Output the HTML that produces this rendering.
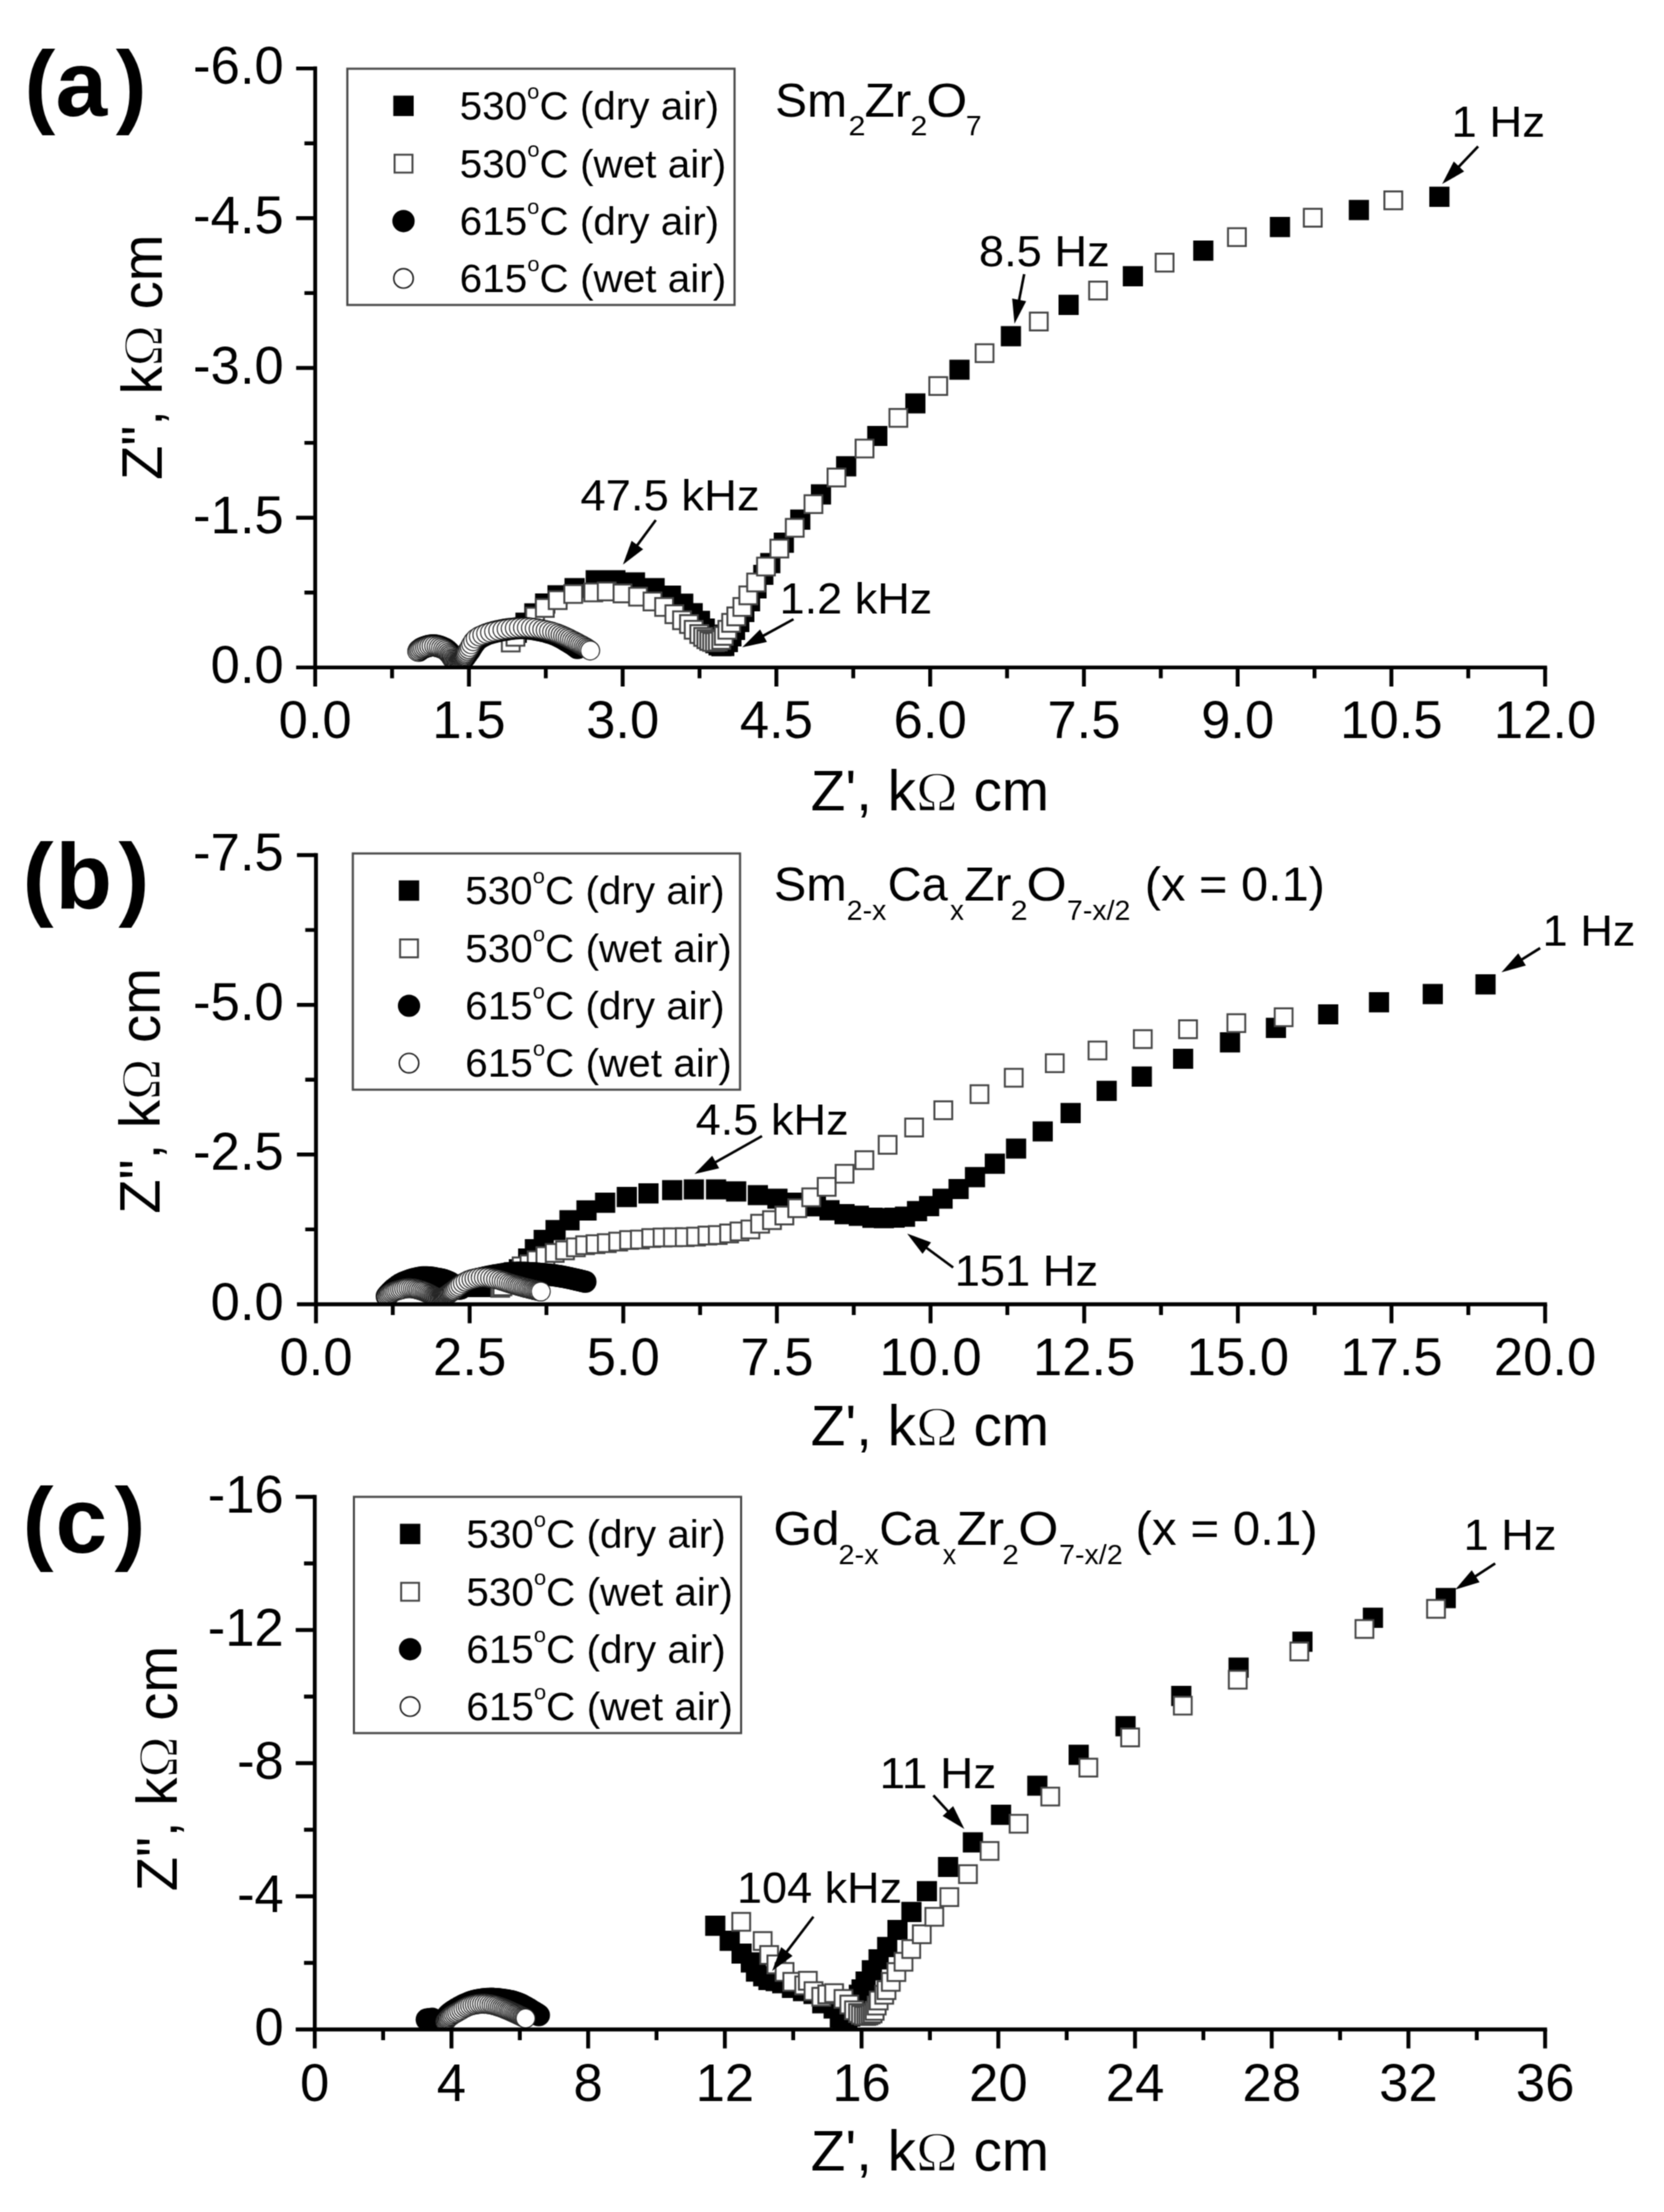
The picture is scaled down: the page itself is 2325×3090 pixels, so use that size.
<!DOCTYPE html>
<html lang="en"><head><meta charset="utf-8"><title>Impedance spectra</title>
<style>html,body{margin:0;padding:0;background:#fff}svg{display:block}text{fill:#000}</style></head><body>
<svg width="2325" height="3090" viewBox="0 0 2325 3090">
<defs><filter id="soft" color-interpolation-filters="sRGB" x="0" y="0" width="2325" height="3090" filterUnits="userSpaceOnUse"><feConvolveMatrix order="3" kernelMatrix="1 2 1 2 4 2 1 2 1" divisor="16" edgeMode="duplicate" preserveAlpha="true"/></filter></defs>
<g filter="url(#soft)">
<rect width="2325" height="3090" fill="#fff"/>
<rect x="485.3" y="96" width="541" height="330" fill="#fff" stroke="#4a4a4a" stroke-width="3"/>
<rect x="549.5" y="133.6" width="28.5" height="28.5" fill="#000"/>
<rect x="551.3" y="216.1" width="25" height="25" fill="#fff" stroke="#444" stroke-width="2.7"/>
<circle cx="563.8" cy="308.8" r="15.6" fill="#000"/>
<circle cx="563.8" cy="388.9" r="13.6" fill="#fff" stroke="#222" stroke-width="2.2"/>
<text x="642.3" y="166.8" font-size="55" font-family="'Liberation Sans', Arial, Helvetica, sans-serif" textLength="362.5" lengthAdjust="spacingAndGlyphs">530<tspan font-size="30" dy="-29">o</tspan><tspan dy="29">C (dry air)</tspan></text>
<text x="642.3" y="247.6" font-size="55" font-family="'Liberation Sans', Arial, Helvetica, sans-serif" textLength="372.5" lengthAdjust="spacingAndGlyphs">530<tspan font-size="30" dy="-29">o</tspan><tspan dy="29">C (wet air)</tspan></text>
<text x="642.3" y="327.8" font-size="55" font-family="'Liberation Sans', Arial, Helvetica, sans-serif" textLength="362.5" lengthAdjust="spacingAndGlyphs">615<tspan font-size="30" dy="-29">o</tspan><tspan dy="29">C (dry air)</tspan></text>
<text x="642.3" y="407.9" font-size="55" font-family="'Liberation Sans', Arial, Helvetica, sans-serif" textLength="372.5" lengthAdjust="spacingAndGlyphs">615<tspan font-size="30" dy="-29">o</tspan><tspan dy="29">C (wet air)</tspan></text>
<clipPath id="cp1"><rect x="440.5" y="0" width="1884.5" height="932.4"/></clipPath>
<g clip-path="url(#cp1)">
<path d="M707.9 869.9h28.2v28.2h-28.2zM720.2 855.8h28.2v28.2h-28.2zM732.5 842.8h28.2v28.2h-28.2zM747.6 829.1h28.2v28.2h-28.2zM764.9 817.5h28.2v28.2h-28.2zM788.7 807.4h28.2v28.2h-28.2zM818.3 796.6h28.2v28.2h-28.2zM845.7 796.6h28.2v28.2h-28.2zM873.1 799.5h28.2v28.2h-28.2zM900.5 807.4h28.2v28.2h-28.2zM923.4 817.9h28.2v28.2h-28.2zM940.5 829.2h28.2v28.2h-28.2zM953.7 842.5h28.2v28.2h-28.2zM963.9 853.3h28.2v28.2h-28.2zM970.6 864.1h28.2v28.2h-28.2zM976 872.5h28.2v28.2h-28.2zM980.9 879.4h28.2v28.2h-28.2zM985.4 884.4h28.2v28.2h-28.2zM989.9 887.4h28.2v28.2h-28.2zM993.9 888.5h28.2v28.2h-28.2zM997.9 888.3h28.2v28.2h-28.2zM1002.9 882.9h28.2v28.2h-28.2zM1007.9 874.9h28.2v28.2h-28.2zM1012.9 865.9h28.2v28.2h-28.2zM1018.9 854.9h28.2v28.2h-28.2zM1025.9 840.9h28.2v28.2h-28.2zM1033.9 825.9h28.2v28.2h-28.2zM1042.9 807.9h28.2v28.2h-28.2zM1052.4 788.9h28.2v28.2h-28.2zM1062.2 772.5h28.2v28.2h-28.2zM1081.1 744.1h28.2v28.2h-28.2zM1104.1 711.7h28.2v28.2h-28.2zM1133 676.5h28.2v28.2h-28.2zM1168.2 637.3h28.2v28.2h-28.2zM1211.7 594.9h28.2v28.2h-28.2zM1264.9 549.4h28.2v28.2h-28.2zM1326.5 502.4h28.2v28.2h-28.2zM1398.4 455.5h28.2v28.2h-28.2zM1479 411.7h28.2v28.2h-28.2zM1568.8 371.7h28.2v28.2h-28.2zM1667.2 336h28.2v28.2h-28.2zM1774.3 303h28.2v28.2h-28.2zM1884.6 279.2h28.2v28.2h-28.2zM1997.1 260.8h28.2v28.2h-28.2z" fill="#000"/>
<g fill="#fff" stroke="#444" stroke-width="2.7">
<rect x="701.2" y="885.1" width="24.9" height="24.9"/>
<rect x="707.8" y="877.1" width="24.9" height="24.9"/>
<rect x="721.5" y="863.5" width="24.9" height="24.9"/>
<rect x="735.1" y="849" width="24.9" height="24.9"/>
<rect x="748.8" y="836.8" width="24.9" height="24.9"/>
<rect x="766.8" y="825.9" width="24.9" height="24.9"/>
<rect x="788.5" y="817.3" width="24.9" height="24.9"/>
<rect x="816.5" y="815.1" width="24.9" height="24.9"/>
<rect x="835.3" y="813.8" width="24.9" height="24.9"/>
<rect x="857.3" y="816.5" width="24.9" height="24.9"/>
<rect x="879" y="821.1" width="24.9" height="24.9"/>
<rect x="899.2" y="827.8" width="24.9" height="24.9"/>
<rect x="915.5" y="835.4" width="24.9" height="24.9"/>
<rect x="929.8" y="845.6" width="24.9" height="24.9"/>
<rect x="940.5" y="854" width="24.9" height="24.9"/>
<rect x="950.2" y="859.3" width="24.9" height="24.9"/>
<rect x="956.8" y="867.3" width="24.9" height="24.9"/>
<rect x="964.6" y="873.3" width="24.9" height="24.9"/>
<rect x="970" y="877.3" width="24.9" height="24.9"/>
<rect x="974.5" y="880.5" width="24.9" height="24.9"/>
<rect x="978.5" y="882.9" width="24.9" height="24.9"/>
<rect x="982.5" y="884.3" width="24.9" height="24.9"/>
<rect x="986.5" y="884.5" width="24.9" height="24.9"/>
<rect x="990.5" y="883.8" width="24.9" height="24.9"/>
<rect x="995.2" y="881.5" width="24.9" height="24.9"/>
<rect x="998.8" y="875.8" width="24.9" height="24.9"/>
<rect x="1003.8" y="867.3" width="24.9" height="24.9"/>
<rect x="1009.1" y="857.6" width="24.9" height="24.9"/>
<rect x="1016.3" y="848.6" width="24.9" height="24.9"/>
<rect x="1024.8" y="835.4" width="24.9" height="24.9"/>
<rect x="1033.1" y="819.2" width="24.9" height="24.9"/>
<rect x="1044" y="801.2" width="24.9" height="24.9"/>
<rect x="1057.8" y="779" width="24.9" height="24.9"/>
<rect x="1076.5" y="753.9" width="24.9" height="24.9"/>
<rect x="1098" y="724.9" width="24.9" height="24.9"/>
<rect x="1124.1" y="691.8" width="24.9" height="24.9"/>
<rect x="1156.3" y="654.6" width="24.9" height="24.9"/>
<rect x="1195.5" y="614.1" width="24.9" height="24.9"/>
<rect x="1242.8" y="571.3" width="24.9" height="24.9"/>
<rect x="1298.5" y="526.8" width="24.9" height="24.9"/>
<rect x="1363.2" y="480.9" width="24.9" height="24.9"/>
<rect x="1439" y="436.7" width="24.9" height="24.9"/>
<rect x="1521.8" y="393.4" width="24.9" height="24.9"/>
<rect x="1614.8" y="354.4" width="24.9" height="24.9"/>
<rect x="1715.8" y="318.8" width="24.9" height="24.9"/>
<rect x="1821.8" y="291.7" width="24.9" height="24.9"/>
<rect x="1934.3" y="267.4" width="24.9" height="24.9"/>
</g>
<g fill="#000">
<circle cx="585" cy="909" r="15.6"/>
<circle cx="586.6" cy="907.8" r="15.6"/>
<circle cx="588.3" cy="906.5" r="15.6"/>
<circle cx="590.2" cy="905.3" r="15.6"/>
<circle cx="592.5" cy="904.3" r="15.6"/>
<circle cx="594.9" cy="903.5" r="15.6"/>
<circle cx="597.6" cy="902.7" r="15.6"/>
<circle cx="600.4" cy="902" r="15.6"/>
<circle cx="603.6" cy="901.5" r="15.6"/>
<circle cx="606.9" cy="901.6" r="15.6"/>
<circle cx="610.2" cy="902.1" r="15.6"/>
<circle cx="613.2" cy="902.9" r="15.6"/>
<circle cx="616.1" cy="903.9" r="15.6"/>
<circle cx="618.8" cy="905" r="15.6"/>
<circle cx="621.3" cy="906.2" r="15.6"/>
<circle cx="623.6" cy="907.7" r="15.6"/>
<circle cx="625.6" cy="909.3" r="15.6"/>
<circle cx="627.3" cy="911" r="15.6"/>
<circle cx="628.8" cy="912.7" r="15.6"/>
<circle cx="630.2" cy="914.3" r="15.6"/>
<circle cx="631.5" cy="915.8" r="15.6"/>
<circle cx="632.6" cy="917.3" r="15.6"/>
<circle cx="633.5" cy="918.7" r="15.6"/>
<circle cx="634.4" cy="920" r="15.6"/>
<circle cx="635.3" cy="921.2" r="15.6"/>
<circle cx="636.2" cy="922.2" r="15.6"/>
<circle cx="637.1" cy="923.2" r="15.6"/>
<circle cx="637.8" cy="924.1" r="15.6"/>
<circle cx="638.7" cy="925" r="15.6"/>
<circle cx="639.6" cy="925.7" r="15.6"/>
<circle cx="640.8" cy="926" r="15.6"/>
<circle cx="642" cy="925.7" r="15.6"/>
<circle cx="643" cy="925.1" r="15.6"/>
<circle cx="643.9" cy="924.4" r="15.6"/>
<circle cx="644.7" cy="923.5" r="15.6"/>
<circle cx="645.6" cy="922.6" r="15.6"/>
<circle cx="646.4" cy="921.7" r="15.6"/>
<circle cx="647.1" cy="920.8" r="15.6"/>
<circle cx="647.9" cy="919.9" r="15.6"/>
<circle cx="648.8" cy="918.8" r="15.6"/>
<circle cx="649.9" cy="917.4" r="15.6"/>
<circle cx="651.1" cy="915.8" r="15.6"/>
<circle cx="652.5" cy="913.8" r="15.6"/>
<circle cx="654.1" cy="911.6" r="15.6"/>
<circle cx="656.1" cy="908.9" r="15.6"/>
<circle cx="658.3" cy="905.6" r="15.6"/>
<circle cx="660.6" cy="901.7" r="15.6"/>
<circle cx="663.3" cy="897.9" r="15.6"/>
<circle cx="666.4" cy="894.3" r="15.6"/>
<circle cx="670.3" cy="891.3" r="15.6"/>
<circle cx="674.6" cy="888.7" r="15.6"/>
<circle cx="679.2" cy="886.4" r="15.6"/>
<circle cx="684.2" cy="884.6" r="15.6"/>
<circle cx="689.5" cy="883.1" r="15.6"/>
<circle cx="694.7" cy="881.9" r="15.6"/>
<circle cx="699.8" cy="880.8" r="15.6"/>
<circle cx="704.8" cy="879.9" r="15.6"/>
<circle cx="709.7" cy="879.2" r="15.6"/>
<circle cx="714.4" cy="878.5" r="15.6"/>
<circle cx="719" cy="878" r="15.6"/>
<circle cx="723.5" cy="877.7" r="15.6"/>
<circle cx="727.9" cy="877.5" r="15.6"/>
<circle cx="732.2" cy="877.5" r="15.6"/>
<circle cx="736.3" cy="877.8" r="15.6"/>
<circle cx="740.3" cy="878.1" r="15.6"/>
<circle cx="744.2" cy="878.6" r="15.6"/>
<circle cx="747.9" cy="879.2" r="15.6"/>
<circle cx="751.6" cy="879.9" r="15.6"/>
<circle cx="755.2" cy="880.6" r="15.6"/>
<circle cx="758.7" cy="881.4" r="15.6"/>
<circle cx="762.1" cy="882.3" r="15.6"/>
<circle cx="765.3" cy="883.2" r="15.6"/>
<circle cx="768.5" cy="884.1" r="15.6"/>
<circle cx="771.6" cy="885" r="15.6"/>
<circle cx="774.6" cy="886.1" r="15.6"/>
<circle cx="777.5" cy="887.3" r="15.6"/>
<circle cx="780.2" cy="888.6" r="15.6"/>
<circle cx="782.9" cy="889.9" r="15.6"/>
<circle cx="785.4" cy="891.3" r="15.6"/>
<circle cx="787.8" cy="892.7" r="15.6"/>
<circle cx="790.2" cy="894.2" r="15.6"/>
<circle cx="792.5" cy="895.5" r="15.6"/>
<circle cx="794.8" cy="896.9" r="15.6"/>
<circle cx="797" cy="898.2" r="15.6"/>
<circle cx="799.1" cy="899.5" r="15.6"/>
<circle cx="801.2" cy="900.9" r="15.6"/>
<circle cx="803.1" cy="902.3" r="15.6"/>
<circle cx="805" cy="903.7" r="15.6"/>
<circle cx="806.8" cy="905.1" r="15.6"/>
</g>
<g fill="#fff" stroke="#262626" stroke-width="1.45">
<circle cx="583" cy="910" r="13.2"/>
<circle cx="584.7" cy="908.6" r="13.2"/>
<circle cx="586.6" cy="907.2" r="13.2"/>
<circle cx="588.8" cy="906" r="13.2"/>
<circle cx="591.2" cy="905.1" r="13.2"/>
<circle cx="593.9" cy="904.2" r="13.2"/>
<circle cx="596.7" cy="903.4" r="13.2"/>
<circle cx="599.8" cy="902.7" r="13.2"/>
<circle cx="603.1" cy="902.2" r="13.2"/>
<circle cx="606.7" cy="902.3" r="13.2"/>
<circle cx="610.1" cy="903" r="13.2"/>
<circle cx="613.3" cy="904" r="13.2"/>
<circle cx="616.3" cy="905.2" r="13.2"/>
<circle cx="619.2" cy="906.6" r="13.2"/>
<circle cx="621.7" cy="908.2" r="13.2"/>
<circle cx="623.9" cy="910.1" r="13.2"/>
<circle cx="625.8" cy="912.2" r="13.2"/>
<circle cx="627.6" cy="914.2" r="13.2"/>
<circle cx="629" cy="916.2" r="13.2"/>
<circle cx="630.3" cy="918.1" r="13.2"/>
<circle cx="631.4" cy="919.9" r="13.2"/>
<circle cx="632.6" cy="921.5" r="13.2"/>
<circle cx="633.8" cy="922.9" r="13.2"/>
<circle cx="635" cy="924.2" r="13.2"/>
<circle cx="636.1" cy="925.4" r="13.2"/>
<circle cx="637.3" cy="926.4" r="13.2"/>
<circle cx="638.6" cy="926.9" r="13.2"/>
<circle cx="639.9" cy="926.9" r="13.2"/>
<circle cx="641.1" cy="926.4" r="13.2"/>
<circle cx="642.1" cy="925.6" r="13.2"/>
<circle cx="643" cy="924.7" r="13.2"/>
<circle cx="643.9" cy="923.8" r="13.2"/>
<circle cx="644.7" cy="922.7" r="13.2"/>
<circle cx="645.5" cy="921.7" r="13.2"/>
<circle cx="646.2" cy="920.6" r="13.2"/>
<circle cx="646.9" cy="919.5" r="13.2"/>
<circle cx="647.6" cy="918.4" r="13.2"/>
<circle cx="648.3" cy="917.3" r="13.2"/>
<circle cx="648.9" cy="916.2" r="13.2"/>
<circle cx="649.7" cy="914.9" r="13.2"/>
<circle cx="650.6" cy="913.3" r="13.2"/>
<circle cx="651.7" cy="911.5" r="13.2"/>
<circle cx="653.1" cy="909.3" r="13.2"/>
<circle cx="654.8" cy="906.8" r="13.2"/>
<circle cx="656.5" cy="903.7" r="13.2"/>
<circle cx="658.5" cy="899.9" r="13.2"/>
<circle cx="661.2" cy="895.7" r="13.2"/>
<circle cx="664.7" cy="891.9" r="13.2"/>
<circle cx="669.1" cy="889" r="13.2"/>
<circle cx="674" cy="886.9" r="13.2"/>
<circle cx="679.3" cy="885.1" r="13.2"/>
<circle cx="684.7" cy="883.5" r="13.2"/>
<circle cx="690.4" cy="882.1" r="13.2"/>
<circle cx="696.2" cy="880.9" r="13.2"/>
<circle cx="702.1" cy="879.8" r="13.2"/>
<circle cx="707.9" cy="878.8" r="13.2"/>
<circle cx="713.6" cy="878" r="13.2"/>
<circle cx="719.4" cy="877.4" r="13.2"/>
<circle cx="725" cy="877" r="13.2"/>
<circle cx="730.7" cy="876.8" r="13.2"/>
<circle cx="736.2" cy="876.8" r="13.2"/>
<circle cx="741.8" cy="877.1" r="13.2"/>
<circle cx="747.2" cy="877.6" r="13.2"/>
<circle cx="752.6" cy="878.3" r="13.2"/>
<circle cx="757.7" cy="879.2" r="13.2"/>
<circle cx="762.5" cy="880.2" r="13.2"/>
<circle cx="767.1" cy="881.3" r="13.2"/>
<circle cx="771.5" cy="882.5" r="13.2"/>
<circle cx="775.7" cy="883.8" r="13.2"/>
<circle cx="779.6" cy="885.2" r="13.2"/>
<circle cx="783.3" cy="886.7" r="13.2"/>
<circle cx="786.8" cy="888.2" r="13.2"/>
<circle cx="790.1" cy="889.7" r="13.2"/>
<circle cx="793.3" cy="891.2" r="13.2"/>
<circle cx="796.4" cy="892.7" r="13.2"/>
<circle cx="799.4" cy="894.3" r="13.2"/>
<circle cx="802.3" cy="895.7" r="13.2"/>
<circle cx="805.2" cy="897.2" r="13.2"/>
<circle cx="807.9" cy="898.7" r="13.2"/>
<circle cx="810.6" cy="900.1" r="13.2"/>
<circle cx="813.2" cy="901.4" r="13.2"/>
<circle cx="815.7" cy="902.8" r="13.2"/>
<circle cx="818.1" cy="904.2" r="13.2"/>
<circle cx="820.4" cy="905.7" r="13.2"/>
<circle cx="822.5" cy="907.2" r="13.2"/>
<circle cx="824.6" cy="908.7" r="13.2"/>
</g>
</g>
<g stroke="#000" stroke-width="5.4" fill="none">
<path d="M440.4 92.8V959"/>
<path d="M413.8 932.4H2161.6"/>
<path d="M425.4 827.8H440.4M413.8 723.2H440.4M425.4 618.6H440.4M413.8 514H440.4M425.4 409.4H440.4M413.8 304.8H440.4M425.4 200.2H440.4M413.8 95.6H440.4M547.8 932.4V947.4M655.2 932.4V959M762.6 932.4V947.4M870 932.4V959M977.4 932.4V947.4M1084.8 932.4V959M1192.2 932.4V947.4M1299.7 932.4V959M1407.1 932.4V947.4M1514.5 932.4V959M1621.9 932.4V947.4M1729.3 932.4V959M1836.7 932.4V947.4M1944.1 932.4V959M2051.5 932.4V947.4M2158.9 932.4V959"/>
</g>
<text x="396.5" y="953.9" font-size="73.5" text-anchor="end" font-weight="normal" font-family="'Liberation Sans', Arial, Helvetica, sans-serif">0.0</text>
<text x="396.5" y="744.7" font-size="73.5" text-anchor="end" font-weight="normal" font-family="'Liberation Sans', Arial, Helvetica, sans-serif">-1.5</text>
<text x="396.5" y="535.5" font-size="73.5" text-anchor="end" font-weight="normal" font-family="'Liberation Sans', Arial, Helvetica, sans-serif">-3.0</text>
<text x="396.5" y="326.3" font-size="73.5" text-anchor="end" font-weight="normal" font-family="'Liberation Sans', Arial, Helvetica, sans-serif">-4.5</text>
<text x="396.5" y="117.1" font-size="73.5" text-anchor="end" font-weight="normal" font-family="'Liberation Sans', Arial, Helvetica, sans-serif">-6.0</text>
<text x="440.4" y="1031.4" font-size="73.5" text-anchor="middle" font-weight="normal" font-family="'Liberation Sans', Arial, Helvetica, sans-serif">0.0</text>
<text x="655.2" y="1031.4" font-size="73.5" text-anchor="middle" font-weight="normal" font-family="'Liberation Sans', Arial, Helvetica, sans-serif">1.5</text>
<text x="870" y="1031.4" font-size="73.5" text-anchor="middle" font-weight="normal" font-family="'Liberation Sans', Arial, Helvetica, sans-serif">3.0</text>
<text x="1084.8" y="1031.4" font-size="73.5" text-anchor="middle" font-weight="normal" font-family="'Liberation Sans', Arial, Helvetica, sans-serif">4.5</text>
<text x="1299.7" y="1031.4" font-size="73.5" text-anchor="middle" font-weight="normal" font-family="'Liberation Sans', Arial, Helvetica, sans-serif">6.0</text>
<text x="1514.5" y="1031.4" font-size="73.5" text-anchor="middle" font-weight="normal" font-family="'Liberation Sans', Arial, Helvetica, sans-serif">7.5</text>
<text x="1729.3" y="1031.4" font-size="73.5" text-anchor="middle" font-weight="normal" font-family="'Liberation Sans', Arial, Helvetica, sans-serif">9.0</text>
<text x="1944.1" y="1031.4" font-size="73.5" text-anchor="middle" font-weight="normal" font-family="'Liberation Sans', Arial, Helvetica, sans-serif">10.5</text>
<text x="2158.9" y="1031.4" font-size="73.5" text-anchor="middle" font-weight="normal" font-family="'Liberation Sans', Arial, Helvetica, sans-serif">12.0</text>
<text x="1132.8" y="1132.3" font-size="80" font-family="'Liberation Sans', Arial, Helvetica, sans-serif" textLength="333" lengthAdjust="spacingAndGlyphs">Z', k<tspan font-family="'Liberation Serif', 'DejaVu Serif', serif" font-size="79" stroke="#fff" stroke-width="1.6">&#937;</tspan> cm</text>
<text transform="translate(225.9 670.5) rotate(-90)" x="0" y="0" font-size="80" font-family="'Liberation Sans', Arial, Helvetica, sans-serif" textLength="343" lengthAdjust="spacingAndGlyphs">Z&quot;, k<tspan font-family="'Liberation Serif', 'DejaVu Serif', serif" font-size="79" stroke="#fff" stroke-width="1.6">&#937;</tspan> cm</text>
<text x="33.9 77.5 161.8" y="161.5" font-size="130" font-weight="bold" font-family="'Liberation Sans', Arial, Helvetica, sans-serif">(a)</text>
<text x="1083" y="162.8" font-size="67" text-anchor="start" font-weight="normal" font-family="'Liberation Sans', Arial, Helvetica, sans-serif" textLength="100.4" lengthAdjust="spacingAndGlyphs">Sm</text>
<text x="1185.4" y="189.3" font-size="39" text-anchor="start" font-weight="normal" font-family="'Liberation Sans', Arial, Helvetica, sans-serif" textLength="23.8" lengthAdjust="spacingAndGlyphs">2</text>
<text x="1207.9" y="162.8" font-size="67" text-anchor="start" font-weight="normal" font-family="'Liberation Sans', Arial, Helvetica, sans-serif" textLength="65.4" lengthAdjust="spacingAndGlyphs">Zr</text>
<text x="1271.9" y="189.3" font-size="39" text-anchor="start" font-weight="normal" font-family="'Liberation Sans', Arial, Helvetica, sans-serif" textLength="23.8" lengthAdjust="spacingAndGlyphs">2</text>
<text x="1294.2" y="162.8" font-size="67" text-anchor="start" font-weight="normal" font-family="'Liberation Sans', Arial, Helvetica, sans-serif" textLength="57.3" lengthAdjust="spacingAndGlyphs">O</text>
<text x="1349.6" y="189.3" font-size="39" text-anchor="start" font-weight="normal" font-family="'Liberation Sans', Arial, Helvetica, sans-serif" textLength="22" lengthAdjust="spacingAndGlyphs">7</text>
<text x="1367.8" y="372" font-size="62" text-anchor="start" font-weight="normal" font-family="'Liberation Sans', Arial, Helvetica, sans-serif" textLength="182.7" lengthAdjust="spacingAndGlyphs">8.5 Hz</text>
<line x1="1431" y1="383" x2="1423.2" y2="422.9" stroke="#000" stroke-width="3.6"/>
<polygon points="1417.5,452.3 1414.2,417 1433.8,420.8" fill="#000"/>
<text x="810.9" y="713" font-size="62" text-anchor="start" font-weight="normal" font-family="'Liberation Sans', Arial, Helvetica, sans-serif" textLength="250.5" lengthAdjust="spacingAndGlyphs">47.5 kHz</text>
<line x1="916.3" y1="726.5" x2="888.2" y2="764.6" stroke="#000" stroke-width="3.6"/>
<polygon points="870.4,788.7 882.5,755.4 898.6,767.3" fill="#000"/>
<text x="1089.2" y="857" font-size="62" text-anchor="start" font-weight="normal" font-family="'Liberation Sans', Arial, Helvetica, sans-serif" textLength="213.4" lengthAdjust="spacingAndGlyphs">1.2 kHz</text>
<line x1="1108.7" y1="865" x2="1063.3" y2="889.9" stroke="#000" stroke-width="3.6"/>
<polygon points="1037,904.3 1062,879.2 1071.6,896.7" fill="#000"/>
<text x="2028" y="190.6" font-size="62" text-anchor="start" font-weight="normal" font-family="'Liberation Sans', Arial, Helvetica, sans-serif" textLength="130.8" lengthAdjust="spacingAndGlyphs">1 Hz</text>
<line x1="2065.3" y1="204.6" x2="2035.8" y2="235.4" stroke="#000" stroke-width="3.6"/>
<polygon points="2015,257.1 2031.3,225.6 2045.7,239.5" fill="#000"/>
<rect x="493" y="1192.2" width="541" height="330" fill="#fff" stroke="#4a4a4a" stroke-width="3"/>
<rect x="557.2" y="1229.8" width="28.5" height="28.5" fill="#000"/>
<rect x="559" y="1312.3" width="25" height="25" fill="#fff" stroke="#444" stroke-width="2.7"/>
<circle cx="571.5" cy="1405" r="15.6" fill="#000"/>
<circle cx="571.5" cy="1485.1" r="13.6" fill="#fff" stroke="#222" stroke-width="2.2"/>
<text x="650" y="1263" font-size="55" font-family="'Liberation Sans', Arial, Helvetica, sans-serif" textLength="362.5" lengthAdjust="spacingAndGlyphs">530<tspan font-size="30" dy="-29">o</tspan><tspan dy="29">C (dry air)</tspan></text>
<text x="650" y="1343.8" font-size="55" font-family="'Liberation Sans', Arial, Helvetica, sans-serif" textLength="372.5" lengthAdjust="spacingAndGlyphs">530<tspan font-size="30" dy="-29">o</tspan><tspan dy="29">C (wet air)</tspan></text>
<text x="650" y="1424" font-size="55" font-family="'Liberation Sans', Arial, Helvetica, sans-serif" textLength="362.5" lengthAdjust="spacingAndGlyphs">615<tspan font-size="30" dy="-29">o</tspan><tspan dy="29">C (dry air)</tspan></text>
<text x="650" y="1504.1" font-size="55" font-family="'Liberation Sans', Arial, Helvetica, sans-serif" textLength="372.5" lengthAdjust="spacingAndGlyphs">615<tspan font-size="30" dy="-29">o</tspan><tspan dy="29">C (wet air)</tspan></text>
<clipPath id="cp2"><rect x="440.5" y="0" width="1884.5" height="1822"/></clipPath>
<g clip-path="url(#cp2)">
<path d="M642.9 1783.9h28.2v28.2h-28.2zM664.9 1783.9h28.2v28.2h-28.2zM688.9 1775.9h28.2v28.2h-28.2zM710.9 1758.9h28.2v28.2h-28.2zM723.9 1743.9h28.2v28.2h-28.2zM733.3 1730.9h28.2v28.2h-28.2zM745.6 1717.9h28.2v28.2h-28.2zM762.2 1704.2h28.2v28.2h-28.2zM781.6 1690.5h28.2v28.2h-28.2zM805.4 1676.8h28.2v28.2h-28.2zM831.4 1666h28.2v28.2h-28.2zM861.7 1658.1h28.2v28.2h-28.2zM892 1653h28.2v28.2h-28.2zM925.1 1648.4h28.2v28.2h-28.2zM955.4 1647.4h28.2v28.2h-28.2zM986.4 1647.4h28.2v28.2h-28.2zM1014.5 1650.3h28.2v28.2h-28.2zM1044.8 1655.4h28.2v28.2h-28.2zM1072.2 1660.4h28.2v28.2h-28.2zM1098.9 1665.9h28.2v28.2h-28.2zM1125.9 1671.1h28.2v28.2h-28.2zM1144.9 1676.5h28.2v28.2h-28.2zM1165.9 1682h28.2v28.2h-28.2zM1185.9 1684.2h28.2v28.2h-28.2zM1204.9 1687h28.2v28.2h-28.2zM1220.9 1687.5h28.2v28.2h-28.2zM1235.9 1686.9h28.2v28.2h-28.2zM1250.4 1685.5h28.2v28.2h-28.2zM1267.2 1677.7h28.2v28.2h-28.2zM1284.1 1670.8h28.2v28.2h-28.2zM1302.9 1660.4h28.2v28.2h-28.2zM1325.3 1646.9h28.2v28.2h-28.2zM1348.2 1630.3h28.2v28.2h-28.2zM1375.9 1611.6h28.2v28.2h-28.2zM1405.6 1590.4h28.2v28.2h-28.2zM1442.8 1566.4h28.2v28.2h-28.2zM1481.8 1540.7h28.2v28.2h-28.2zM1532.2 1509.7h28.2v28.2h-28.2zM1581.3 1489.8h28.2v28.2h-28.2zM1639 1464.9h28.2v28.2h-28.2zM1704.5 1442.1h28.2v28.2h-28.2zM1768.7 1421.8h28.2v28.2h-28.2zM1841.7 1402.9h28.2v28.2h-28.2zM1912.7 1386h28.2v28.2h-28.2zM1987.8 1374.5h28.2v28.2h-28.2zM2061.5 1361h28.2v28.2h-28.2z" fill="#000"/>
<g fill="#fff" stroke="#444" stroke-width="2.7">
<rect x="686.5" y="1786.5" width="24.9" height="24.9"/>
<rect x="689.5" y="1784.5" width="24.9" height="24.9"/>
<rect x="705.5" y="1764.5" width="24.9" height="24.9"/>
<rect x="716.4" y="1756.6" width="24.9" height="24.9"/>
<rect x="727.3" y="1753.8" width="24.9" height="24.9"/>
<rect x="737.4" y="1748" width="24.9" height="24.9"/>
<rect x="749.6" y="1742.2" width="24.9" height="24.9"/>
<rect x="762.6" y="1737.8" width="24.9" height="24.9"/>
<rect x="777" y="1734.2" width="24.9" height="24.9"/>
<rect x="792.2" y="1730" width="24.9" height="24.9"/>
<rect x="805.1" y="1727" width="24.9" height="24.9"/>
<rect x="819.6" y="1725.6" width="24.9" height="24.9"/>
<rect x="835.4" y="1724.1" width="24.9" height="24.9"/>
<rect x="851.3" y="1722" width="24.9" height="24.9"/>
<rect x="866.5" y="1719.8" width="24.9" height="24.9"/>
<rect x="881.6" y="1719.1" width="24.9" height="24.9"/>
<rect x="897.5" y="1717" width="24.9" height="24.9"/>
<rect x="913.3" y="1716.2" width="24.9" height="24.9"/>
<rect x="927.8" y="1716" width="24.9" height="24.9"/>
<rect x="944.3" y="1715.8" width="24.9" height="24.9"/>
<rect x="960.1" y="1715" width="24.9" height="24.9"/>
<rect x="976" y="1713.5" width="24.9" height="24.9"/>
<rect x="990.4" y="1712.8" width="24.9" height="24.9"/>
<rect x="1006.3" y="1710.6" width="24.9" height="24.9"/>
<rect x="1020.8" y="1707.8" width="24.9" height="24.9"/>
<rect x="1036" y="1705" width="24.9" height="24.9"/>
<rect x="1049.6" y="1697" width="24.9" height="24.9"/>
<rect x="1066.2" y="1692" width="24.9" height="24.9"/>
<rect x="1083.5" y="1685.5" width="24.9" height="24.9"/>
<rect x="1101.5" y="1675.3" width="24.9" height="24.9"/>
<rect x="1121" y="1660.1" width="24.9" height="24.9"/>
<rect x="1142.6" y="1645.5" width="24.9" height="24.9"/>
<rect x="1167.6" y="1627.2" width="24.9" height="24.9"/>
<rect x="1195.3" y="1608.2" width="24.9" height="24.9"/>
<rect x="1227.8" y="1586.8" width="24.9" height="24.9"/>
<rect x="1264.8" y="1562.6" width="24.9" height="24.9"/>
<rect x="1305.6" y="1538.5" width="24.9" height="24.9"/>
<rect x="1356.1" y="1516" width="24.9" height="24.9"/>
<rect x="1404" y="1493.1" width="24.9" height="24.9"/>
<rect x="1461.3" y="1472.8" width="24.9" height="24.9"/>
<rect x="1521" y="1455" width="24.9" height="24.9"/>
<rect x="1584.3" y="1439.1" width="24.9" height="24.9"/>
<rect x="1647.5" y="1425.3" width="24.9" height="24.9"/>
<rect x="1715" y="1416.8" width="24.9" height="24.9"/>
<rect x="1781.1" y="1408.6" width="24.9" height="24.9"/>
</g>
<g fill="#000">
<circle cx="540.5" cy="1810.8" r="15.6"/>
<circle cx="541.8" cy="1809.3" r="15.6"/>
<circle cx="543.2" cy="1807.8" r="15.6"/>
<circle cx="544.6" cy="1806.2" r="15.6"/>
<circle cx="546.1" cy="1804.6" r="15.6"/>
<circle cx="547.8" cy="1803" r="15.6"/>
<circle cx="549.5" cy="1801.4" r="15.6"/>
<circle cx="551.4" cy="1799.8" r="15.6"/>
<circle cx="553.4" cy="1798.3" r="15.6"/>
<circle cx="555.5" cy="1796.7" r="15.6"/>
<circle cx="557.7" cy="1795.1" r="15.6"/>
<circle cx="560" cy="1793.7" r="15.6"/>
<circle cx="562.6" cy="1792.3" r="15.6"/>
<circle cx="565.3" cy="1791.1" r="15.6"/>
<circle cx="568.2" cy="1790" r="15.6"/>
<circle cx="571.2" cy="1788.9" r="15.6"/>
<circle cx="574.3" cy="1787.9" r="15.6"/>
<circle cx="577.5" cy="1786.9" r="15.6"/>
<circle cx="580.9" cy="1786" r="15.6"/>
<circle cx="584.2" cy="1785.3" r="15.6"/>
<circle cx="587.4" cy="1784.8" r="15.6"/>
<circle cx="590.5" cy="1784.4" r="15.6"/>
<circle cx="593.6" cy="1784.3" r="15.6"/>
<circle cx="596.5" cy="1784.4" r="15.6"/>
<circle cx="599.3" cy="1784.6" r="15.6"/>
<circle cx="602.1" cy="1784.9" r="15.6"/>
<circle cx="604.7" cy="1785.2" r="15.6"/>
<circle cx="607.2" cy="1785.6" r="15.6"/>
<circle cx="609.7" cy="1786" r="15.6"/>
<circle cx="612" cy="1786.5" r="15.6"/>
<circle cx="614.3" cy="1786.9" r="15.6"/>
<circle cx="616.5" cy="1787.4" r="15.6"/>
<circle cx="618.6" cy="1787.9" r="15.6"/>
<circle cx="620.6" cy="1788.4" r="15.6"/>
<circle cx="622.5" cy="1789.1" r="15.6"/>
<circle cx="624.3" cy="1789.8" r="15.6"/>
<circle cx="626.1" cy="1790.6" r="15.6"/>
<circle cx="627.8" cy="1791.4" r="15.6"/>
<circle cx="629.4" cy="1792.4" r="15.6"/>
<circle cx="630.9" cy="1793.3" r="15.6"/>
<circle cx="632.4" cy="1794.2" r="15.6"/>
<circle cx="634" cy="1795" r="15.6"/>
<circle cx="635.4" cy="1795.9" r="15.6"/>
<circle cx="636.7" cy="1796.9" r="15.6"/>
<circle cx="637.8" cy="1798.1" r="15.6"/>
<circle cx="639" cy="1799.2" r="15.6"/>
<circle cx="640.3" cy="1799.9" r="15.6"/>
<circle cx="641.8" cy="1800.1" r="15.6"/>
<circle cx="643.3" cy="1799.9" r="15.6"/>
<circle cx="644.8" cy="1799.2" r="15.6"/>
<circle cx="646.1" cy="1798.2" r="15.6"/>
<circle cx="647.4" cy="1797.1" r="15.6"/>
<circle cx="648.8" cy="1795.8" r="15.6"/>
<circle cx="650.2" cy="1794.5" r="15.6"/>
<circle cx="651.8" cy="1793.2" r="15.6"/>
<circle cx="653.6" cy="1792" r="15.6"/>
<circle cx="655.5" cy="1790.9" r="15.6"/>
<circle cx="657.6" cy="1789.9" r="15.6"/>
<circle cx="659.9" cy="1789" r="15.6"/>
<circle cx="662.4" cy="1788.3" r="15.6"/>
<circle cx="665" cy="1787.5" r="15.6"/>
<circle cx="667.8" cy="1786.8" r="15.6"/>
<circle cx="670.7" cy="1786.1" r="15.6"/>
<circle cx="673.7" cy="1785.3" r="15.6"/>
<circle cx="676.9" cy="1784.6" r="15.6"/>
<circle cx="680.3" cy="1783.9" r="15.6"/>
<circle cx="683.8" cy="1783.2" r="15.6"/>
<circle cx="687.6" cy="1782.4" r="15.6"/>
<circle cx="691.5" cy="1781.7" r="15.6"/>
<circle cx="695.4" cy="1781" r="15.6"/>
<circle cx="699.2" cy="1780.4" r="15.6"/>
<circle cx="703" cy="1779.8" r="15.6"/>
<circle cx="706.7" cy="1779.2" r="15.6"/>
<circle cx="710.4" cy="1778.8" r="15.6"/>
<circle cx="714" cy="1778.4" r="15.6"/>
<circle cx="717.6" cy="1778.2" r="15.6"/>
<circle cx="721.2" cy="1778" r="15.6"/>
<circle cx="724.7" cy="1777.9" r="15.6"/>
<circle cx="728.1" cy="1778" r="15.6"/>
<circle cx="731.5" cy="1778.1" r="15.6"/>
<circle cx="734.8" cy="1778.2" r="15.6"/>
<circle cx="738.1" cy="1778.3" r="15.6"/>
<circle cx="741.4" cy="1778.5" r="15.6"/>
<circle cx="744.5" cy="1778.7" r="15.6"/>
<circle cx="747.7" cy="1778.9" r="15.6"/>
<circle cx="750.8" cy="1779.1" r="15.6"/>
<circle cx="753.8" cy="1779.4" r="15.6"/>
<circle cx="756.8" cy="1779.6" r="15.6"/>
<circle cx="759.7" cy="1779.9" r="15.6"/>
<circle cx="762.6" cy="1780.2" r="15.6"/>
<circle cx="765.5" cy="1780.5" r="15.6"/>
<circle cx="768.3" cy="1780.8" r="15.6"/>
<circle cx="771.1" cy="1781.2" r="15.6"/>
<circle cx="773.8" cy="1781.5" r="15.6"/>
<circle cx="776.5" cy="1781.9" r="15.6"/>
<circle cx="779.1" cy="1782.3" r="15.6"/>
<circle cx="781.7" cy="1782.7" r="15.6"/>
<circle cx="784.3" cy="1783.1" r="15.6"/>
<circle cx="786.8" cy="1783.5" r="15.6"/>
<circle cx="789.2" cy="1784" r="15.6"/>
<circle cx="791.6" cy="1784.5" r="15.6"/>
<circle cx="794" cy="1785" r="15.6"/>
<circle cx="796.4" cy="1785.5" r="15.6"/>
<circle cx="798.7" cy="1786" r="15.6"/>
<circle cx="800.9" cy="1786.5" r="15.6"/>
<circle cx="803.2" cy="1787" r="15.6"/>
<circle cx="805.4" cy="1787.5" r="15.6"/>
<circle cx="807.5" cy="1788" r="15.6"/>
<circle cx="809.7" cy="1788.5" r="15.6"/>
<circle cx="811.8" cy="1789" r="15.6"/>
<circle cx="813.8" cy="1789.5" r="15.6"/>
<circle cx="815.9" cy="1790" r="15.6"/>
<circle cx="817.9" cy="1790.5" r="15.6"/>
</g>
<g fill="#fff" stroke="#262626" stroke-width="1.45">
<circle cx="540" cy="1811" r="13.2"/>
<circle cx="541.6" cy="1809.8" r="13.2"/>
<circle cx="543.2" cy="1808.4" r="13.2"/>
<circle cx="544.9" cy="1807.1" r="13.2"/>
<circle cx="546.9" cy="1806" r="13.2"/>
<circle cx="549" cy="1804.9" r="13.2"/>
<circle cx="551.3" cy="1804" r="13.2"/>
<circle cx="553.7" cy="1803.2" r="13.2"/>
<circle cx="556.3" cy="1802.4" r="13.2"/>
<circle cx="559" cy="1801.6" r="13.2"/>
<circle cx="561.8" cy="1800.9" r="13.2"/>
<circle cx="564.8" cy="1800.2" r="13.2"/>
<circle cx="567.9" cy="1799.7" r="13.2"/>
<circle cx="571" cy="1799.5" r="13.2"/>
<circle cx="574.1" cy="1799.6" r="13.2"/>
<circle cx="577.1" cy="1799.9" r="13.2"/>
<circle cx="579.9" cy="1800.5" r="13.2"/>
<circle cx="582.7" cy="1801.1" r="13.2"/>
<circle cx="585.3" cy="1801.9" r="13.2"/>
<circle cx="587.9" cy="1802.7" r="13.2"/>
<circle cx="590.4" cy="1803.5" r="13.2"/>
<circle cx="592.9" cy="1804.3" r="13.2"/>
<circle cx="595.2" cy="1805.3" r="13.2"/>
<circle cx="597.4" cy="1806.3" r="13.2"/>
<circle cx="599.5" cy="1807.4" r="13.2"/>
<circle cx="601.4" cy="1808.5" r="13.2"/>
<circle cx="603.3" cy="1809.6" r="13.2"/>
<circle cx="605.1" cy="1810.6" r="13.2"/>
<circle cx="606.8" cy="1811.4" r="13.2"/>
<circle cx="608.4" cy="1812.2" r="13.2"/>
<circle cx="610" cy="1812.9" r="13.2"/>
<circle cx="611.5" cy="1813.6" r="13.2"/>
<circle cx="613" cy="1813.9" r="13.2"/>
<circle cx="614.5" cy="1814" r="13.2"/>
<circle cx="615.9" cy="1813.8" r="13.2"/>
<circle cx="617.1" cy="1813.4" r="13.2"/>
<circle cx="618.3" cy="1813" r="13.2"/>
<circle cx="619.4" cy="1812.5" r="13.2"/>
<circle cx="620.5" cy="1811.9" r="13.2"/>
<circle cx="621.5" cy="1811.3" r="13.2"/>
<circle cx="622.6" cy="1810.6" r="13.2"/>
<circle cx="623.7" cy="1809.9" r="13.2"/>
<circle cx="624.7" cy="1809.2" r="13.2"/>
<circle cx="625.8" cy="1808.4" r="13.2"/>
<circle cx="626.9" cy="1807.6" r="13.2"/>
<circle cx="627.9" cy="1806.8" r="13.2"/>
<circle cx="629" cy="1806" r="13.2"/>
<circle cx="630.1" cy="1805.1" r="13.2"/>
<circle cx="631.3" cy="1804.3" r="13.2"/>
<circle cx="632.7" cy="1803.3" r="13.2"/>
<circle cx="634.2" cy="1802.1" r="13.2"/>
<circle cx="636.1" cy="1800.7" r="13.2"/>
<circle cx="638.1" cy="1799" r="13.2"/>
<circle cx="640.5" cy="1797.1" r="13.2"/>
<circle cx="643.4" cy="1794.9" r="13.2"/>
<circle cx="646.8" cy="1792.5" r="13.2"/>
<circle cx="650.6" cy="1790.3" r="13.2"/>
<circle cx="654.6" cy="1788.5" r="13.2"/>
<circle cx="658.8" cy="1787" r="13.2"/>
<circle cx="663" cy="1785.9" r="13.2"/>
<circle cx="667.3" cy="1785" r="13.2"/>
<circle cx="671.7" cy="1784.5" r="13.2"/>
<circle cx="676.1" cy="1784.4" r="13.2"/>
<circle cx="680.5" cy="1784.7" r="13.2"/>
<circle cx="684.8" cy="1785.3" r="13.2"/>
<circle cx="689.1" cy="1786.2" r="13.2"/>
<circle cx="693.2" cy="1787.1" r="13.2"/>
<circle cx="697.2" cy="1788" r="13.2"/>
<circle cx="700.9" cy="1789.1" r="13.2"/>
<circle cx="704.4" cy="1790.2" r="13.2"/>
<circle cx="707.8" cy="1791.3" r="13.2"/>
<circle cx="711.1" cy="1792.4" r="13.2"/>
<circle cx="714.2" cy="1793.4" r="13.2"/>
<circle cx="717.2" cy="1794.3" r="13.2"/>
<circle cx="720.1" cy="1795.2" r="13.2"/>
<circle cx="722.9" cy="1795.9" r="13.2"/>
<circle cx="725.6" cy="1796.7" r="13.2"/>
<circle cx="728.2" cy="1797.4" r="13.2"/>
<circle cx="730.8" cy="1798.1" r="13.2"/>
<circle cx="733.3" cy="1798.8" r="13.2"/>
<circle cx="735.8" cy="1799.4" r="13.2"/>
<circle cx="738.2" cy="1800" r="13.2"/>
<circle cx="740.5" cy="1800.6" r="13.2"/>
<circle cx="742.8" cy="1801.2" r="13.2"/>
<circle cx="745.1" cy="1801.7" r="13.2"/>
<circle cx="747.3" cy="1802.3" r="13.2"/>
<circle cx="749.5" cy="1802.7" r="13.2"/>
<circle cx="751.6" cy="1803.2" r="13.2"/>
<circle cx="753.6" cy="1803.7" r="13.2"/>
<circle cx="755.6" cy="1804.1" r="13.2"/>
</g>
</g>
<g stroke="#000" stroke-width="5.4" fill="none">
<path d="M441.5 1191.8V1848.6"/>
<path d="M414.9 1822H2161.6"/>
<path d="M426.5 1717.4H441.5M414.9 1612.8H441.5M426.5 1508.2H441.5M414.9 1403.7H441.5M426.5 1299.1H441.5M414.9 1194.5H441.5M548.8 1822V1837M656.2 1822V1848.6M763.5 1822V1837M870.9 1822V1848.6M978.2 1822V1837M1085.5 1822V1848.6M1192.9 1822V1837M1300.2 1822V1848.6M1407.5 1822V1837M1514.9 1822V1848.6M1622.2 1822V1837M1729.6 1822V1848.6M1836.9 1822V1837M1944.2 1822V1848.6M2051.6 1822V1837M2158.9 1822V1848.6"/>
</g>
<text x="396.5" y="1843.5" font-size="73.5" text-anchor="end" font-weight="normal" font-family="'Liberation Sans', Arial, Helvetica, sans-serif">0.0</text>
<text x="396.5" y="1634.3" font-size="73.5" text-anchor="end" font-weight="normal" font-family="'Liberation Sans', Arial, Helvetica, sans-serif">-2.5</text>
<text x="396.5" y="1425.2" font-size="73.5" text-anchor="end" font-weight="normal" font-family="'Liberation Sans', Arial, Helvetica, sans-serif">-5.0</text>
<text x="396.5" y="1216" font-size="73.5" text-anchor="end" font-weight="normal" font-family="'Liberation Sans', Arial, Helvetica, sans-serif">-7.5</text>
<text x="441.5" y="1921.3" font-size="73.5" text-anchor="middle" font-weight="normal" font-family="'Liberation Sans', Arial, Helvetica, sans-serif">0.0</text>
<text x="656.2" y="1921.3" font-size="73.5" text-anchor="middle" font-weight="normal" font-family="'Liberation Sans', Arial, Helvetica, sans-serif">2.5</text>
<text x="870.9" y="1921.3" font-size="73.5" text-anchor="middle" font-weight="normal" font-family="'Liberation Sans', Arial, Helvetica, sans-serif">5.0</text>
<text x="1085.5" y="1921.3" font-size="73.5" text-anchor="middle" font-weight="normal" font-family="'Liberation Sans', Arial, Helvetica, sans-serif">7.5</text>
<text x="1300.2" y="1921.3" font-size="73.5" text-anchor="middle" font-weight="normal" font-family="'Liberation Sans', Arial, Helvetica, sans-serif">10.0</text>
<text x="1514.9" y="1921.3" font-size="73.5" text-anchor="middle" font-weight="normal" font-family="'Liberation Sans', Arial, Helvetica, sans-serif">12.5</text>
<text x="1729.6" y="1921.3" font-size="73.5" text-anchor="middle" font-weight="normal" font-family="'Liberation Sans', Arial, Helvetica, sans-serif">15.0</text>
<text x="1944.2" y="1921.3" font-size="73.5" text-anchor="middle" font-weight="normal" font-family="'Liberation Sans', Arial, Helvetica, sans-serif">17.5</text>
<text x="2158.9" y="1921.3" font-size="73.5" text-anchor="middle" font-weight="normal" font-family="'Liberation Sans', Arial, Helvetica, sans-serif">20.0</text>
<text x="1132.8" y="2018.7" font-size="80" font-family="'Liberation Sans', Arial, Helvetica, sans-serif" textLength="333" lengthAdjust="spacingAndGlyphs">Z', k<tspan font-family="'Liberation Serif', 'DejaVu Serif', serif" font-size="79" stroke="#fff" stroke-width="1.6">&#937;</tspan> cm</text>
<text transform="translate(222.8 1695.4) rotate(-90)" x="0" y="0" font-size="80" font-family="'Liberation Sans', Arial, Helvetica, sans-serif" textLength="343" lengthAdjust="spacingAndGlyphs">Z&quot;, k<tspan font-family="'Liberation Serif', 'DejaVu Serif', serif" font-size="79" stroke="#fff" stroke-width="1.6">&#937;</tspan> cm</text>
<text x="31.5 77.3 165.4" y="1269.3" font-size="130" font-weight="bold" font-family="'Liberation Sans', Arial, Helvetica, sans-serif">(b)</text>
<text x="1081.2" y="1258.3" font-size="67" text-anchor="start" font-weight="normal" font-family="'Liberation Sans', Arial, Helvetica, sans-serif" textLength="102" lengthAdjust="spacingAndGlyphs">Sm</text>
<text x="1183" y="1284.8" font-size="39" text-anchor="start" font-weight="normal" font-family="'Liberation Sans', Arial, Helvetica, sans-serif" textLength="55.4" lengthAdjust="spacingAndGlyphs">2-x</text>
<text x="1240.3" y="1258.3" font-size="67" text-anchor="start" font-weight="normal" font-family="'Liberation Sans', Arial, Helvetica, sans-serif" textLength="84" lengthAdjust="spacingAndGlyphs">Ca</text>
<text x="1327.6" y="1284.8" font-size="39" text-anchor="start" font-weight="normal" font-family="'Liberation Sans', Arial, Helvetica, sans-serif" textLength="19.3" lengthAdjust="spacingAndGlyphs">x</text>
<text x="1346.9" y="1258.3" font-size="67" text-anchor="start" font-weight="normal" font-family="'Liberation Sans', Arial, Helvetica, sans-serif" textLength="66.4" lengthAdjust="spacingAndGlyphs">Zr</text>
<text x="1411.9" y="1284.8" font-size="39" text-anchor="start" font-weight="normal" font-family="'Liberation Sans', Arial, Helvetica, sans-serif" textLength="23.8" lengthAdjust="spacingAndGlyphs">2</text>
<text x="1434.3" y="1258.3" font-size="67" text-anchor="start" font-weight="normal" font-family="'Liberation Sans', Arial, Helvetica, sans-serif" textLength="56.2" lengthAdjust="spacingAndGlyphs">O</text>
<text x="1490.8" y="1284.8" font-size="39" text-anchor="start" font-weight="normal" font-family="'Liberation Sans', Arial, Helvetica, sans-serif" textLength="88.6" lengthAdjust="spacingAndGlyphs">7-x/2</text>
<text x="1599.6" y="1258.3" font-size="67" text-anchor="start" font-weight="normal" font-family="'Liberation Sans', Arial, Helvetica, sans-serif" textLength="251.7" lengthAdjust="spacingAndGlyphs">(x = 0.1)</text>
<text x="972" y="1585.4" font-size="62" text-anchor="start" font-weight="normal" font-family="'Liberation Sans', Arial, Helvetica, sans-serif" textLength="213.7" lengthAdjust="spacingAndGlyphs">4.5 kHz</text>
<line x1="1064.7" y1="1587" x2="996.6" y2="1625.3" stroke="#000" stroke-width="3.6"/>
<polygon points="970.4,1640 995.1,1614.6 1004.9,1632.1" fill="#000"/>
<text x="1333.9" y="1796.3" font-size="62" text-anchor="start" font-weight="normal" font-family="'Liberation Sans', Arial, Helvetica, sans-serif" textLength="200.5" lengthAdjust="spacingAndGlyphs">151 Hz</text>
<line x1="1331.8" y1="1770.6" x2="1291.8" y2="1741.1" stroke="#000" stroke-width="3.6"/>
<polygon points="1267.6,1723.3 1300.9,1735.4 1289,1751.5" fill="#000"/>
<text x="2155.3" y="1321" font-size="62" text-anchor="start" font-weight="normal" font-family="'Liberation Sans', Arial, Helvetica, sans-serif" textLength="129.8" lengthAdjust="spacingAndGlyphs">1 Hz</text>
<line x1="2152" y1="1324.4" x2="2123.3" y2="1342.3" stroke="#000" stroke-width="3.6"/>
<polygon points="2097.9,1358.2 2121.4,1331.7 2132,1348.7" fill="#000"/>
<rect x="494.5" y="2091" width="541" height="330" fill="#fff" stroke="#4a4a4a" stroke-width="3"/>
<rect x="558.8" y="2128.6" width="28.5" height="28.5" fill="#000"/>
<rect x="560.5" y="2211.1" width="25" height="25" fill="#fff" stroke="#444" stroke-width="2.7"/>
<circle cx="573" cy="2303.8" r="15.6" fill="#000"/>
<circle cx="573" cy="2383.9" r="13.6" fill="#fff" stroke="#222" stroke-width="2.2"/>
<text x="651.5" y="2161.8" font-size="55" font-family="'Liberation Sans', Arial, Helvetica, sans-serif" textLength="362.5" lengthAdjust="spacingAndGlyphs">530<tspan font-size="30" dy="-29">o</tspan><tspan dy="29">C (dry air)</tspan></text>
<text x="651.5" y="2242.6" font-size="55" font-family="'Liberation Sans', Arial, Helvetica, sans-serif" textLength="372.5" lengthAdjust="spacingAndGlyphs">530<tspan font-size="30" dy="-29">o</tspan><tspan dy="29">C (wet air)</tspan></text>
<text x="651.5" y="2322.8" font-size="55" font-family="'Liberation Sans', Arial, Helvetica, sans-serif" textLength="362.5" lengthAdjust="spacingAndGlyphs">615<tspan font-size="30" dy="-29">o</tspan><tspan dy="29">C (dry air)</tspan></text>
<text x="651.5" y="2402.9" font-size="55" font-family="'Liberation Sans', Arial, Helvetica, sans-serif" textLength="372.5" lengthAdjust="spacingAndGlyphs">615<tspan font-size="30" dy="-29">o</tspan><tspan dy="29">C (wet air)</tspan></text>
<clipPath id="cp3"><rect x="440.5" y="0" width="1884.5" height="2835"/></clipPath>
<g clip-path="url(#cp3)">
<path d="M985.3 2676.1h28.2v28.2h-28.2zM1005.5 2697h28.2v28.2h-28.2zM1022.1 2714.9h28.2v28.2h-28.2zM1035 2727.2h28.2v28.2h-28.2zM1042.2 2740.1h28.2v28.2h-28.2zM1052.3 2746.6h28.2v28.2h-28.2zM1059.6 2751.7h28.2v28.2h-28.2zM1069.7 2753.4h28.2v28.2h-28.2zM1078.9 2756.4h28.2v28.2h-28.2zM1092.5 2762.9h28.2v28.2h-28.2zM1107.9 2767.4h28.2v28.2h-28.2zM1122.6 2771.3h28.2v28.2h-28.2zM1134.8 2784.3h28.2v28.2h-28.2zM1150.7 2791.5h28.2v28.2h-28.2zM1159.4 2804.5h28.2v28.2h-28.2zM1162.9 2812.9h28.2v28.2h-28.2zM1165.9 2819.9h28.2v28.2h-28.2zM1169.9 2813.9h28.2v28.2h-28.2zM1173.9 2802.9h28.2v28.2h-28.2zM1177.9 2791.9h28.2v28.2h-28.2zM1181.9 2780.9h28.2v28.2h-28.2zM1185.9 2772.4h28.2v28.2h-28.2zM1189.7 2764.9h28.2v28.2h-28.2zM1195.4 2754.1h28.2v28.2h-28.2zM1204.1 2738.3h28.2v28.2h-28.2zM1213.5 2723.1h28.2v28.2h-28.2zM1225.5 2705.7h28.2v28.2h-28.2zM1239.9 2681.9h28.2v28.2h-28.2zM1259.4 2656.7h28.2v28.2h-28.2zM1281 2627.8h28.2v28.2h-28.2zM1310.6 2593.9h28.2v28.2h-28.2zM1345.3 2559.6h28.2v28.2h-28.2zM1384.6 2521h28.2v28.2h-28.2zM1435.3 2480.4h28.2v28.2h-28.2zM1493.1 2437.2h28.2v28.2h-28.2zM1558.5 2397.2h28.2v28.2h-28.2zM1636.4 2355h28.2v28.2h-28.2zM1716.5 2315.5h28.2v28.2h-28.2zM1805.7 2279.3h28.2v28.2h-28.2zM1904.2 2245.7h28.2v28.2h-28.2zM2005.9 2218.2h28.2v28.2h-28.2z" fill="#000"/>
<g fill="#fff" stroke="#444" stroke-width="2.7">
<rect x="1023.2" y="2672.2" width="24.9" height="24.9"/>
<rect x="1053.2" y="2699" width="24.9" height="24.9"/>
<rect x="1062.2" y="2718.5" width="24.9" height="24.9"/>
<rect x="1072.3" y="2731.7" width="24.9" height="24.9"/>
<rect x="1083.8" y="2742.2" width="24.9" height="24.9"/>
<rect x="1094.6" y="2756" width="24.9" height="24.9"/>
<rect x="1111.2" y="2761" width="24.9" height="24.9"/>
<rect x="1116.3" y="2754.5" width="24.9" height="24.9"/>
<rect x="1124.2" y="2769" width="24.9" height="24.9"/>
<rect x="1135" y="2776.9" width="24.9" height="24.9"/>
<rect x="1143.5" y="2773.6" width="24.9" height="24.9"/>
<rect x="1153" y="2771.8" width="24.9" height="24.9"/>
<rect x="1166.1" y="2779.9" width="24.9" height="24.9"/>
<rect x="1174.2" y="2787.8" width="24.9" height="24.9"/>
<rect x="1180.8" y="2795.8" width="24.9" height="24.9"/>
<rect x="1186.5" y="2799.6" width="24.9" height="24.9"/>
<rect x="1190.5" y="2802.1" width="24.9" height="24.9"/>
<rect x="1194.5" y="2803.4" width="24.9" height="24.9"/>
<rect x="1198" y="2803.6" width="24.9" height="24.9"/>
<rect x="1201" y="2803" width="24.9" height="24.9"/>
<rect x="1204" y="2801.6" width="24.9" height="24.9"/>
<rect x="1206.8" y="2800.1" width="24.9" height="24.9"/>
<rect x="1209.6" y="2796.5" width="24.9" height="24.9"/>
<rect x="1212.5" y="2789.2" width="24.9" height="24.9"/>
<rect x="1215.3" y="2782.1" width="24.9" height="24.9"/>
<rect x="1223" y="2774.1" width="24.9" height="24.9"/>
<rect x="1226.2" y="2767.6" width="24.9" height="24.9"/>
<rect x="1232.2" y="2756.1" width="24.9" height="24.9"/>
<rect x="1240" y="2742.4" width="24.9" height="24.9"/>
<rect x="1250" y="2728" width="24.9" height="24.9"/>
<rect x="1260.8" y="2710.2" width="24.9" height="24.9"/>
<rect x="1275.5" y="2689.6" width="24.9" height="24.9"/>
<rect x="1293" y="2665.2" width="24.9" height="24.9"/>
<rect x="1314" y="2637.7" width="24.9" height="24.9"/>
<rect x="1340" y="2605.6" width="24.9" height="24.9"/>
<rect x="1370.2" y="2573.2" width="24.9" height="24.9"/>
<rect x="1410.8" y="2535.2" width="24.9" height="24.9"/>
<rect x="1455" y="2497.2" width="24.9" height="24.9"/>
<rect x="1508.2" y="2456.8" width="24.9" height="24.9"/>
<rect x="1566.6" y="2414.6" width="24.9" height="24.9"/>
<rect x="1640.2" y="2370.2" width="24.9" height="24.9"/>
<rect x="1717" y="2334" width="24.9" height="24.9"/>
<rect x="1803" y="2294.5" width="24.9" height="24.9"/>
<rect x="1894" y="2263.1" width="24.9" height="24.9"/>
<rect x="1994" y="2235" width="24.9" height="24.9"/>
</g>
<g fill="#000">
<circle cx="596.3" cy="2821.2" r="15.6"/>
<circle cx="600" cy="2820.5" r="15.6"/>
<circle cx="604" cy="2820" r="15.6"/>
<circle cx="619.4" cy="2824" r="15.6"/>
<circle cx="621.4" cy="2821" r="15.6"/>
<circle cx="623.5" cy="2818.1" r="15.6"/>
<circle cx="625.7" cy="2815.4" r="15.6"/>
<circle cx="628.2" cy="2812.9" r="15.6"/>
<circle cx="630.9" cy="2810.8" r="15.6"/>
<circle cx="633.7" cy="2808.8" r="15.6"/>
<circle cx="636.6" cy="2807" r="15.6"/>
<circle cx="639.5" cy="2805.3" r="15.6"/>
<circle cx="642.5" cy="2803.7" r="15.6"/>
<circle cx="645.4" cy="2802.2" r="15.6"/>
<circle cx="648.3" cy="2800.7" r="15.6"/>
<circle cx="651.3" cy="2799.4" r="15.6"/>
<circle cx="654.2" cy="2798.1" r="15.6"/>
<circle cx="657.2" cy="2796.9" r="15.6"/>
<circle cx="660.2" cy="2795.9" r="15.6"/>
<circle cx="663.2" cy="2795.1" r="15.6"/>
<circle cx="666.2" cy="2794.4" r="15.6"/>
<circle cx="669.2" cy="2793.8" r="15.6"/>
<circle cx="672.2" cy="2793.3" r="15.6"/>
<circle cx="675.2" cy="2792.9" r="15.6"/>
<circle cx="678.2" cy="2792.6" r="15.6"/>
<circle cx="681.1" cy="2792.4" r="15.6"/>
<circle cx="684" cy="2792.3" r="15.6"/>
<circle cx="686.9" cy="2792.2" r="15.6"/>
<circle cx="689.8" cy="2792.3" r="15.6"/>
<circle cx="692.7" cy="2792.5" r="15.6"/>
<circle cx="695.5" cy="2792.7" r="15.6"/>
<circle cx="698.2" cy="2793" r="15.6"/>
<circle cx="701" cy="2793.4" r="15.6"/>
<circle cx="703.7" cy="2793.8" r="15.6"/>
<circle cx="706.4" cy="2794.2" r="15.6"/>
<circle cx="709" cy="2794.7" r="15.6"/>
<circle cx="711.6" cy="2795.1" r="15.6"/>
<circle cx="714.2" cy="2795.6" r="15.6"/>
<circle cx="716.8" cy="2796.2" r="15.6"/>
<circle cx="719.3" cy="2797" r="15.6"/>
<circle cx="721.7" cy="2797.8" r="15.6"/>
<circle cx="724.1" cy="2798.6" r="15.6"/>
<circle cx="726.4" cy="2799.6" r="15.6"/>
<circle cx="728.6" cy="2800.7" r="15.6"/>
<circle cx="730.8" cy="2801.9" r="15.6"/>
<circle cx="733" cy="2803" r="15.6"/>
<circle cx="735.1" cy="2804.2" r="15.6"/>
<circle cx="737.2" cy="2805.4" r="15.6"/>
<circle cx="739.2" cy="2806.6" r="15.6"/>
<circle cx="741.2" cy="2807.9" r="15.6"/>
<circle cx="743.2" cy="2809.1" r="15.6"/>
<circle cx="745.2" cy="2810.3" r="15.6"/>
<circle cx="747.1" cy="2811.5" r="15.6"/>
<circle cx="749.1" cy="2812.7" r="15.6"/>
<circle cx="751" cy="2813.9" r="15.6"/>
<circle cx="752.9" cy="2815" r="15.6"/>
</g>
<g fill="#fff" stroke="#262626" stroke-width="1.45">
<circle cx="622.3" cy="2824" r="13.2"/>
<circle cx="623.3" cy="2822.9" r="13.2"/>
<circle cx="624.3" cy="2821.6" r="13.2"/>
<circle cx="625.5" cy="2820.3" r="13.2"/>
<circle cx="626.8" cy="2819" r="13.2"/>
<circle cx="628.3" cy="2817.6" r="13.2"/>
<circle cx="630" cy="2816.3" r="13.2"/>
<circle cx="631.9" cy="2815" r="13.2"/>
<circle cx="634" cy="2813.6" r="13.2"/>
<circle cx="636.4" cy="2812.3" r="13.2"/>
<circle cx="638.9" cy="2810.9" r="13.2"/>
<circle cx="641.7" cy="2809.3" r="13.2"/>
<circle cx="644.6" cy="2807.6" r="13.2"/>
<circle cx="647.5" cy="2805.9" r="13.2"/>
<circle cx="650.6" cy="2804.3" r="13.2"/>
<circle cx="653.7" cy="2803" r="13.2"/>
<circle cx="656.9" cy="2801.9" r="13.2"/>
<circle cx="660.2" cy="2801" r="13.2"/>
<circle cx="663.5" cy="2800.3" r="13.2"/>
<circle cx="666.9" cy="2799.7" r="13.2"/>
<circle cx="670.2" cy="2799.3" r="13.2"/>
<circle cx="673.6" cy="2799.1" r="13.2"/>
<circle cx="677" cy="2799.2" r="13.2"/>
<circle cx="680.4" cy="2799.4" r="13.2"/>
<circle cx="683.7" cy="2799.9" r="13.2"/>
<circle cx="686.9" cy="2800.5" r="13.2"/>
<circle cx="689.9" cy="2801.2" r="13.2"/>
<circle cx="692.9" cy="2802" r="13.2"/>
<circle cx="695.7" cy="2802.8" r="13.2"/>
<circle cx="698.5" cy="2803.7" r="13.2"/>
<circle cx="701.2" cy="2804.7" r="13.2"/>
<circle cx="703.7" cy="2805.7" r="13.2"/>
<circle cx="706.2" cy="2806.7" r="13.2"/>
<circle cx="708.6" cy="2807.7" r="13.2"/>
<circle cx="711" cy="2808.7" r="13.2"/>
<circle cx="713.2" cy="2809.7" r="13.2"/>
<circle cx="715.4" cy="2810.6" r="13.2"/>
<circle cx="717.6" cy="2811.6" r="13.2"/>
<circle cx="719.7" cy="2812.6" r="13.2"/>
<circle cx="721.7" cy="2813.5" r="13.2"/>
<circle cx="723.7" cy="2814.4" r="13.2"/>
<circle cx="725.6" cy="2815.3" r="13.2"/>
<circle cx="727.4" cy="2816.2" r="13.2"/>
<circle cx="729.3" cy="2817.1" r="13.2"/>
<circle cx="731" cy="2817.9" r="13.2"/>
<circle cx="732.8" cy="2818.7" r="13.2"/>
<circle cx="734.4" cy="2819.5" r="13.2"/>
</g>
</g>
<g stroke="#000" stroke-width="5.4" fill="none">
<path d="M439.8 2088.3V2861.6"/>
<path d="M413.2 2835H2161.6"/>
<path d="M424.8 2742H439.8M413.2 2649H439.8M424.8 2556H439.8M413.2 2463H439.8M424.8 2370H439.8M413.2 2277H439.8M424.8 2184H439.8M413.2 2091H439.8M535.3 2835V2850M630.8 2835V2861.6M726.3 2835V2850M821.8 2835V2861.6M917.3 2835V2850M1012.8 2835V2861.6M1108.3 2835V2850M1203.8 2835V2861.6M1299.3 2835V2850M1394.9 2835V2861.6M1490.4 2835V2850M1585.9 2835V2861.6M1681.4 2835V2850M1776.9 2835V2861.6M1872.4 2835V2850M1967.9 2835V2861.6M2063.4 2835V2850M2158.9 2835V2861.6"/>
</g>
<text x="396.5" y="2856.5" font-size="73.5" text-anchor="end" font-weight="normal" font-family="'Liberation Sans', Arial, Helvetica, sans-serif">0</text>
<text x="396.5" y="2670.5" font-size="73.5" text-anchor="end" font-weight="normal" font-family="'Liberation Sans', Arial, Helvetica, sans-serif">-4</text>
<text x="396.5" y="2484.5" font-size="73.5" text-anchor="end" font-weight="normal" font-family="'Liberation Sans', Arial, Helvetica, sans-serif">-8</text>
<text x="396.5" y="2298.5" font-size="73.5" text-anchor="end" font-weight="normal" font-family="'Liberation Sans', Arial, Helvetica, sans-serif">-12</text>
<text x="396.5" y="2112.5" font-size="73.5" text-anchor="end" font-weight="normal" font-family="'Liberation Sans', Arial, Helvetica, sans-serif">-16</text>
<text x="439.8" y="2934.8" font-size="73.5" text-anchor="middle" font-weight="normal" font-family="'Liberation Sans', Arial, Helvetica, sans-serif">0</text>
<text x="630.8" y="2934.8" font-size="73.5" text-anchor="middle" font-weight="normal" font-family="'Liberation Sans', Arial, Helvetica, sans-serif">4</text>
<text x="821.8" y="2934.8" font-size="73.5" text-anchor="middle" font-weight="normal" font-family="'Liberation Sans', Arial, Helvetica, sans-serif">8</text>
<text x="1012.8" y="2934.8" font-size="73.5" text-anchor="middle" font-weight="normal" font-family="'Liberation Sans', Arial, Helvetica, sans-serif">12</text>
<text x="1203.8" y="2934.8" font-size="73.5" text-anchor="middle" font-weight="normal" font-family="'Liberation Sans', Arial, Helvetica, sans-serif">16</text>
<text x="1394.9" y="2934.8" font-size="73.5" text-anchor="middle" font-weight="normal" font-family="'Liberation Sans', Arial, Helvetica, sans-serif">20</text>
<text x="1585.9" y="2934.8" font-size="73.5" text-anchor="middle" font-weight="normal" font-family="'Liberation Sans', Arial, Helvetica, sans-serif">24</text>
<text x="1776.9" y="2934.8" font-size="73.5" text-anchor="middle" font-weight="normal" font-family="'Liberation Sans', Arial, Helvetica, sans-serif">28</text>
<text x="1967.9" y="2934.8" font-size="73.5" text-anchor="middle" font-weight="normal" font-family="'Liberation Sans', Arial, Helvetica, sans-serif">32</text>
<text x="2158.9" y="2934.8" font-size="73.5" text-anchor="middle" font-weight="normal" font-family="'Liberation Sans', Arial, Helvetica, sans-serif">36</text>
<text x="1132.8" y="3032.3" font-size="80" font-family="'Liberation Sans', Arial, Helvetica, sans-serif" textLength="333" lengthAdjust="spacingAndGlyphs">Z', k<tspan font-family="'Liberation Serif', 'DejaVu Serif', serif" font-size="79" stroke="#fff" stroke-width="1.6">&#937;</tspan> cm</text>
<text transform="translate(247.1 2642.1) rotate(-90)" x="0" y="0" font-size="80" font-family="'Liberation Sans', Arial, Helvetica, sans-serif" textLength="343" lengthAdjust="spacingAndGlyphs">Z&quot;, k<tspan font-family="'Liberation Serif', 'DejaVu Serif', serif" font-size="79" stroke="#fff" stroke-width="1.6">&#937;</tspan> cm</text>
<text x="31.5 77.5 160" y="2169" font-size="130" font-weight="bold" font-family="'Liberation Sans', Arial, Helvetica, sans-serif">(c)</text>
<text x="1080.5" y="2158.4" font-size="67" text-anchor="start" font-weight="normal" font-family="'Liberation Sans', Arial, Helvetica, sans-serif" textLength="92.6" lengthAdjust="spacingAndGlyphs">Gd</text>
<text x="1171.4" y="2184.9" font-size="39" text-anchor="start" font-weight="normal" font-family="'Liberation Sans', Arial, Helvetica, sans-serif" textLength="56.4" lengthAdjust="spacingAndGlyphs">2-x</text>
<text x="1228.5" y="2158.4" font-size="67" text-anchor="start" font-weight="normal" font-family="'Liberation Sans', Arial, Helvetica, sans-serif" textLength="84" lengthAdjust="spacingAndGlyphs">Ca</text>
<text x="1317.3" y="2184.9" font-size="39" text-anchor="start" font-weight="normal" font-family="'Liberation Sans', Arial, Helvetica, sans-serif" textLength="18.8" lengthAdjust="spacingAndGlyphs">x</text>
<text x="1336.5" y="2158.4" font-size="67" text-anchor="start" font-weight="normal" font-family="'Liberation Sans', Arial, Helvetica, sans-serif" textLength="66.4" lengthAdjust="spacingAndGlyphs">Zr</text>
<text x="1400.3" y="2184.9" font-size="39" text-anchor="start" font-weight="normal" font-family="'Liberation Sans', Arial, Helvetica, sans-serif" textLength="23.3" lengthAdjust="spacingAndGlyphs">2</text>
<text x="1422.7" y="2158.4" font-size="67" text-anchor="start" font-weight="normal" font-family="'Liberation Sans', Arial, Helvetica, sans-serif" textLength="56.1" lengthAdjust="spacingAndGlyphs">O</text>
<text x="1479.8" y="2184.9" font-size="39" text-anchor="start" font-weight="normal" font-family="'Liberation Sans', Arial, Helvetica, sans-serif" textLength="88.8" lengthAdjust="spacingAndGlyphs">7-x/2</text>
<text x="1586.6" y="2158.4" font-size="67" text-anchor="start" font-weight="normal" font-family="'Liberation Sans', Arial, Helvetica, sans-serif" textLength="254.7" lengthAdjust="spacingAndGlyphs">(x = 0.1)</text>
<text x="1229.1" y="2498.3" font-size="62" text-anchor="start" font-weight="normal" font-family="'Liberation Sans', Arial, Helvetica, sans-serif" textLength="163" lengthAdjust="spacingAndGlyphs">11 Hz</text>
<line x1="1304.2" y1="2508" x2="1327.1" y2="2532.9" stroke="#000" stroke-width="3.6"/>
<polygon points="1347.5,2554.9 1317.1,2536.7 1331.8,2523.1" fill="#000"/>
<text x="1029.8" y="2657.7" font-size="62" text-anchor="start" font-weight="normal" font-family="'Liberation Sans', Arial, Helvetica, sans-serif" textLength="230.6" lengthAdjust="spacingAndGlyphs">104 kHz</text>
<line x1="1136.5" y1="2677.5" x2="1097" y2="2729.3" stroke="#000" stroke-width="3.6"/>
<polygon points="1078.8,2753.2 1091.5,2720.1 1107.4,2732.2" fill="#000"/>
<text x="2045" y="2165.2" font-size="62" text-anchor="start" font-weight="normal" font-family="'Liberation Sans', Arial, Helvetica, sans-serif" textLength="129.7" lengthAdjust="spacingAndGlyphs">1 Hz</text>
<line x1="2089.1" y1="2184.1" x2="2058.5" y2="2204" stroke="#000" stroke-width="3.6"/>
<polygon points="2033.4,2220.4 2056.4,2193.5 2067.3,2210.2" fill="#000"/>
</g></svg></body></html>
